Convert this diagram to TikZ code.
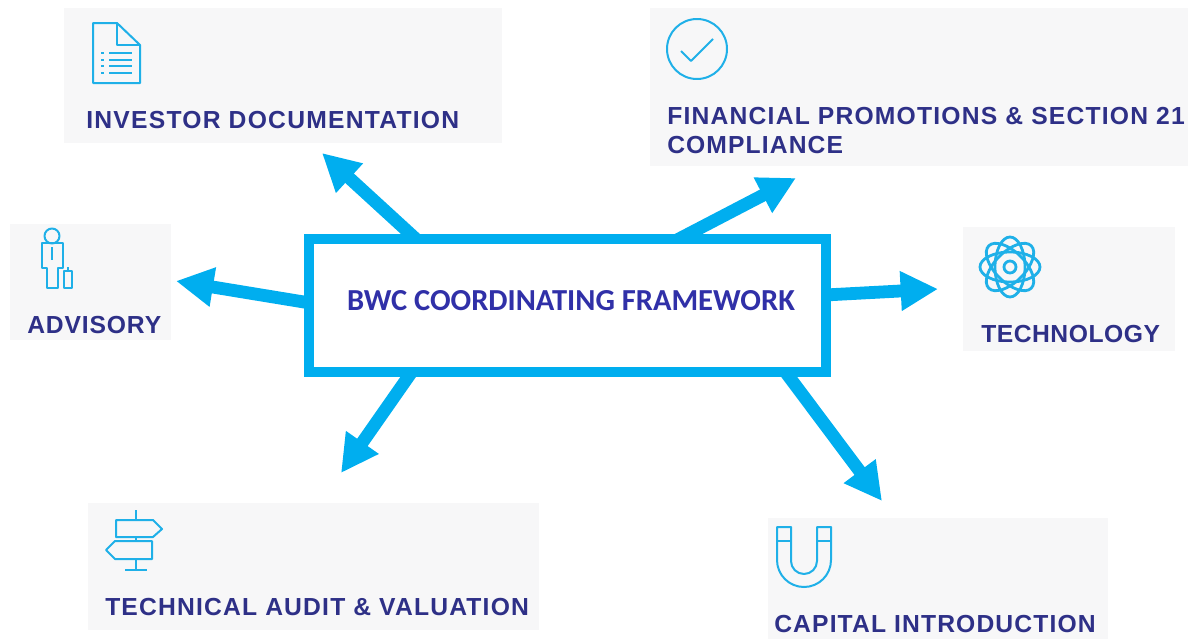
\documentclass[tikz,border=0pt]{standalone}
\usepackage{fontspec}
\usetikzlibrary{arrows.meta}
\setmainfont{Liberation Sans}
\newfontfamily\labelfont{Liberation Sans}
\newfontfamily\framefont{Carlito}
\newcommand{\spaced}[1]{\addfontfeature{LetterSpace=#1}}
\definecolor{panelgray}{HTML}{F7F7F8}
\definecolor{arrowblue}{HTML}{00AEEF}
\definecolor{iconblue}{HTML}{1FB0E8}
\definecolor{labelblue}{HTML}{2E3087}
\definecolor{frametext}{HTML}{3030A8}
\tikzset{
  panel/.style={fill=panelgray,draw=none},
  lbl/.style={anchor=base west,inner sep=0pt,text=labelblue,font=\labelfont\bfseries\fontsize{18.5}{22}\selectfont},
  bigarrow/.style={draw=arrowblue,line width=9.6pt,-{Triangle[length=28pt,width=28pt,fill=arrowblue]}},
  icon/.style={draw=iconblue,line width=1.5pt,line join=round},
  thinicon/.style={draw=iconblue,line width=1.4pt},
  atomline/.style={draw=iconblue,line width=2.1pt}
}
\begin{document}
\begin{tikzpicture}[x=0.75pt,y=-0.75pt]
\useasboundingbox (0,0) rectangle (1188,639);
% panels
\fill[panel] (64,8) rectangle (502,143);
\fill[panel] (650,8) rectangle (1188,166);
\fill[panel] (10,224) rectangle (171,340);
\fill[panel] (963,227) rectangle (1175,351);
\fill[panel] (88,503) rectangle (539,630);
\fill[panel] (768,518) rectangle (1108,639);
% arrow end points
\coordinate (s1) at (417,240);
\coordinate (e1) at (322,153);
\coordinate (s2) at (677,240);
\coordinate (e2) at (796,178);
\coordinate (s3) at (825,295);
\coordinate (e3) at (938,289);
\coordinate (s4) at (310,303);
\coordinate (e4) at (176,281);
\coordinate (s5) at (413,370);
\coordinate (e5) at (341,473);
\coordinate (s6) at (784,370);
\coordinate (e6) at (882,501);
\draw[bigarrow] (s1) -- (e1);
\draw[bigarrow] (s2) -- (e2);
\draw[bigarrow] (s3) -- (e3);
\draw[bigarrow] (s4) -- (e4);
\draw[bigarrow] (s5) -- (e5);
\draw[bigarrow] (s6) -- (e6);
% central frame
\node[draw=arrowblue,fill=white,line width=7.4pt,minimum width=387.75pt,minimum height=100pt,inner sep=0pt] (frame) at (567.5,305.5) {};
\node[font=\framefont\bfseries\fontsize{22.9}{27}\selectfont,text=frametext,inner sep=0pt] (title) at (571,301) {BWC COORDINATING FRAMEWORK};
% labels
\node[lbl] (investor) at (86,128) {\spaced{5.05}INVESTOR DOCUMENTATION};
\node[lbl] (finance1) at (667,124) {\spaced{4.9}FINANCIAL PROMOTIONS \& SECTION 21};
\node[lbl] (finance2) at (667,153) {\spaced{4.5}COMPLIANCE};
\node[lbl] (advisory) at (27,333) {\spaced{3.5}ADVISORY};
\node[lbl] (technology) at (981,342) {\spaced{2.1}TECHNOLOGY};
\node[lbl] (audit) at (105,615) {\spaced{4.8}TECHNICAL AUDIT \& VALUATION};
\node[lbl] (capital) at (774,632) {\spaced{4.6}CAPITAL INTRODUCTION};
% document icon
\draw[icon] (93,23) -- (117,23) -- (140,45) -- (140,83) -- (93,83) -- cycle;
\draw[icon] (117,23) -- (117,45) -- (140,45);
\foreach \yy in {53,60,66,73}{
  \draw[thinicon] (109,\yy) -- (132,\yy);
  \draw[thinicon] (101,\yy) -- (104,\yy);
}
% check icon
\draw[icon] (697,49) circle (30);
\draw[icon] (681,51) -- (691,61) -- (713,39);
% person icon
\draw[icon] (52,236) circle (7.5);
\draw[icon] (42,243) -- (63,243) -- (63,268) -- (58,268) -- (58,288) -- (47,288) -- (47,268) -- (42,268) -- cycle;
\draw[thinicon] (52,247) -- (52,260);
\draw[icon] (64,271) rectangle (72,288);
\draw[thinicon] (68,271) -- (68,267);
% atom icon
\foreach \aa in {0,45,90,135}{
  \draw[atomline,rotate around={\aa:(1010,267)}] (1010,267) ellipse (30 and 15);
}
\draw[atomline] (1010,267) circle (6);
% signpost icon
\draw[icon] (116,520) -- (153,520) -- (162,529) -- (153,537) -- (116,537) -- cycle;
\draw[icon] (152,541) -- (115,541) -- (106,550) -- (115,559) -- (152,559) -- cycle;
\draw[icon] (136,510) -- (136,520) (136,537) -- (136,541) (136,559) -- (136,570) (125,570) -- (147,570);
% magnet icon
\draw[icon] (777,527) -- (791,527) -- (791,561) arc[start angle=180,end angle=0,radius=13] -- (817,527) -- (831,527) -- (831,560) arc[start angle=0,end angle=180,radius=27] -- cycle;
\draw[icon] (777,541) -- (791,541) (817,541) -- (831,541);
\end{tikzpicture}
\end{document}
